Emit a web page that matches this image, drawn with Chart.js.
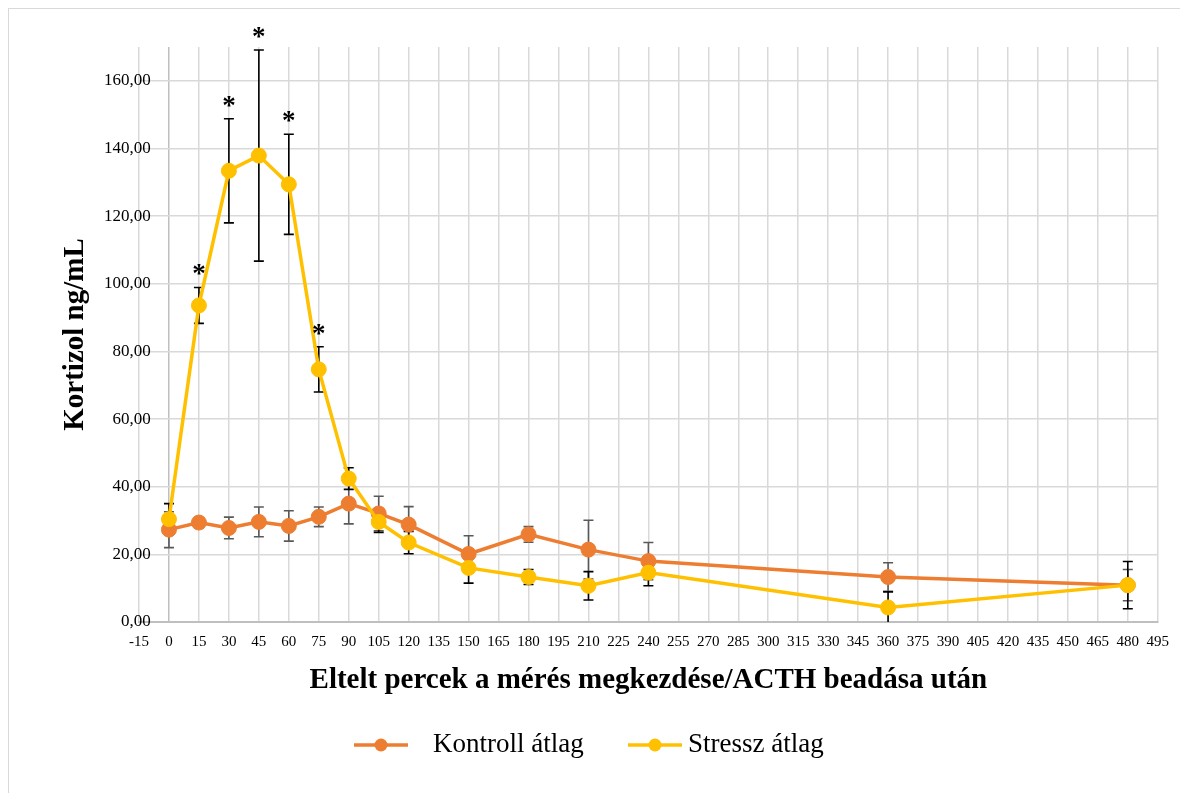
<!DOCTYPE html>
<html><head><meta charset="utf-8">
<script src="https://cdn.jsdelivr.net/npm/chart.js@4.4.0/dist/chart.umd.min.js"></script>
<style>
html,body{margin:0;padding:0;background:#fff;}
#wrap{position:relative;width:1180px;height:793px;overflow:hidden;}
#frame{position:absolute;left:8px;top:8px;width:1300px;height:900px;border:1px solid #d9d9d9;box-sizing:border-box;pointer-events:none;}
canvas{position:absolute;left:0;top:0;}
</style></head><body>
<div id="wrap"><canvas id="c" width="1180" height="793"></canvas><div id="frame"></div></div>
<script>
const timePoints   = [0, 15, 30, 45, 60, 75, 90, 105, 120, 150, 180, 210, 240, 360, 480];
const kontroll     = [27.3, 29.4, 27.8, 29.6, 28.4, 31.1, 35.0, 32.1, 28.8, 20.1, 25.9, 21.4, 18.0, 13.3, 10.9];
const kontrollErr  = [5.3, 1.5, 3.2, 4.4, 4.5, 2.9, 6.0, 5.1, 5.3, 5.4, 2.3, 8.7, 5.5, 4.2, 4.6];
const stressz      = [30.4, 93.6, 133.4, 137.9, 129.4, 74.7, 42.4, 29.6, 23.5, 16.0, 13.3, 10.7, 14.6, 4.3, 10.9];
const stresszErr   = [4.6, 5.3, 15.4, 31.2, 14.8, 6.7, 3.2, 3.1, 3.3, 4.5, 2.2, 4.2, 3.9, 4.6, 7.0];
const significant  = [false, true, true, true, true, true, false, false, false, false, false, false, false, false, false];
const seriesLabels = ['Kontroll átlag', 'Stressz átlag'];
const xTitle = 'Eltelt percek a mérés megkezdése/ACTH beadása után';
const yTitle = 'Kortizol ng/mL';

const ORANGE = '#ED7D31', YELLOW = '#FFC000';
const SERIF = "'Liberation Serif', 'Times New Roman', serif";

const toPoints = vals => timePoints.map((t, i) => ({x: t, y: vals[i]}));

const errorBars = {
  id: 'errorBars',
  beforeDatasetsDraw(chart) {
    const {ctx, chartArea: a, scales: {x, y}} = chart;
    ctx.save();
    ctx.beginPath();
    ctx.rect(a.left, a.top, a.right - a.left, a.bottom - a.top);
    ctx.clip();
    chart.data.datasets.forEach(ds => {
      ctx.strokeStyle = ds.errorColor;
      ctx.lineWidth = 1.6;
      ds.data.forEach((p, i) => {
        const e = ds.errors[i];
        const px = x.getPixelForValue(p.x);
        const hi = y.getPixelForValue(p.y + e);
        const lo = y.getPixelForValue(p.y - e);
        ctx.beginPath();
        ctx.moveTo(px, hi); ctx.lineTo(px, lo);
        ctx.moveTo(px - 5, hi); ctx.lineTo(px + 5, hi);
        ctx.moveTo(px - 5, lo); ctx.lineTo(px + 5, lo);
        ctx.stroke();
      });
    });
    ctx.restore();
  },
  afterDatasetsDraw(chart) {
    const {ctx, scales: {x, y}} = chart;
    const ds = chart.data.datasets[1];
    ctx.save();
    ctx.fillStyle = '#000';
    ctx.font = 'bold 27px ' + SERIF;
    ctx.textAlign = 'center';
    ctx.textBaseline = 'alphabetic';
    ds.data.forEach((p, i) => {
      if (!significant[i]) return;
      const px = x.getPixelForValue(p.x);
      const hi = y.getPixelForValue(p.y + ds.errors[i]);
      ctx.fillText('*', px, hi - 5);
    });
    ctx.restore();
  }
};

const legendPlugin = {
  id: 'customLegend',
  afterDraw(chart) {
    const {ctx} = chart;
    const lineStarts = [354, 628];
    const textStarts = [433, 688];
    const cy = 745;
    ctx.save();
    chart.data.datasets.forEach((ds, i) => {
      const x0 = lineStarts[i];
      ctx.strokeStyle = ds.borderColor;
      ctx.lineWidth = 3.5;
      ctx.beginPath(); ctx.moveTo(x0, cy); ctx.lineTo(x0 + 54, cy); ctx.stroke();
      ctx.fillStyle = ds.backgroundColor;
      ctx.beginPath(); ctx.arc(x0 + 27, cy, 6.5, 0, Math.PI * 2); ctx.fill();
      ctx.fillStyle = '#000';
      ctx.font = '27px ' + SERIF;
      ctx.textAlign = 'left';
      ctx.textBaseline = 'middle';
      ctx.fillText(ds.label, textStarts[i], cy);
    });
    ctx.restore();
  }
};

new Chart(document.getElementById('c'), {
  type: 'line',
  data: {
    datasets: [
      {label: seriesLabels[0], data: toPoints(kontroll), errors: kontrollErr, errorColor: '#595959',
       borderColor: ORANGE, backgroundColor: ORANGE, pointBackgroundColor: ORANGE, pointBorderColor: ORANGE,
       borderWidth: 3.5, pointRadius: 7.5, pointBorderWidth: 1, tension: 0, order: 1},
      {label: seriesLabels[1], data: toPoints(stressz), errors: stresszErr, errorColor: '#000000',
       borderColor: YELLOW, backgroundColor: YELLOW, pointBackgroundColor: YELLOW, pointBorderColor: YELLOW,
       borderWidth: 3.5, pointRadius: 7.5, pointBorderWidth: 1, tension: 0, order: 0}
    ]
  },
  options: {
    responsive: false,
    animation: false,
    layout: {padding: {left: 0, top: 47, right: 19, bottom: 0}},
    plugins: {legend: {display: false}, tooltip: {enabled: false}},
    scales: {
      x: {
        type: 'linear', min: -15, max: 495,
        ticks: {stepSize: 15, autoSkip: false, maxRotation: 0, minRotation: 0, color: '#000',
                font: {family: SERIF, size: 15}, padding: 11},
        grid: {color: c => (c.tick && c.tick.value === 0) ? '#bfbfbf' : '#d9d9d9', lineWidth: 1.5, drawTicks: false},
        border: {color: '#bfbfbf', width: 2},
        title: {display: true, text: xTitle, color: '#000', font: {family: SERIF, size: 29, weight: 'bold'},
                padding: {top: 0, bottom: 95}},
        afterFit: s => { s.height = 171; }
      },
      y: {
        min: 0, max: 170,
        afterBuildTicks: s => { s.ticks = s.ticks.filter(t => t.value % 20 === 0); },
        ticks: {stepSize: 20, color: '#000', font: {family: SERIF, size: 17}, mirror: true, crossAlign: 'far', padding: -35,
                callback: v => v.toFixed(2).replace('.', ',')},
        grid: {color: '#d9d9d9', lineWidth: 1.5, drawTicks: false},
        border: {display: false},
        title: {display: true, text: yTitle, color: '#000', font: {family: SERIF, size: 29, weight: 'bold'},
                padding: {top: 58.6, bottom: 0}},
        afterFit: s => { s.width = 139; }
      }
    }
  },
  plugins: [errorBars, legendPlugin]
});
</script>
</body></html>
